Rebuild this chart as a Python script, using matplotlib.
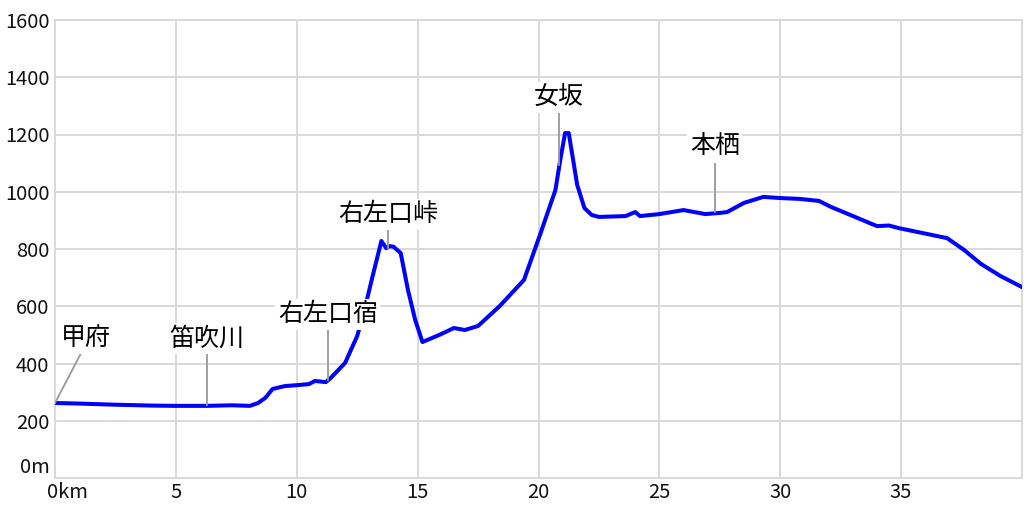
import matplotlib
matplotlib.use("Agg")
import matplotlib.pyplot as plt
from matplotlib.transforms import ScaledTranslation

plt.rcParams['font.family'] = ['Noto Sans CJK JP', 'DejaVu Sans']

# distance (km) and elevation (m)
dist_km = [0.0, 1.0, 2.5, 4.0, 5.0, 6.3, 7.3, 8.06, 8.4, 8.7, 9.0, 9.5, 10.1, 10.5, 10.75,
           11.2, 11.4, 12.0, 12.5, 12.8, 13.1, 13.5, 13.7, 13.85, 14.0, 14.3, 14.6, 14.9,
           15.2, 15.9, 16.5, 16.95, 17.5, 18.4, 19.4, 20.06, 20.7, 20.9, 21.1, 21.25,
           21.4, 21.6, 21.9, 22.2, 22.5, 23.6, 24.0, 24.2, 25.0, 26.0, 26.9, 27.5, 27.8,
           28.5, 29.3, 30.0, 30.8, 31.6, 32.1, 34.0, 34.5, 34.9, 36.9, 37.6, 38.3, 39.1, 40.0]
elev_m = [262, 260, 256, 253, 252, 252, 254, 252, 262, 280, 311, 321, 325, 328, 339,
          335, 349, 402, 496, 587, 692, 828, 803, 810, 808, 786, 657, 552,
          475, 500, 524, 517, 531, 601, 692, 849, 1006, 1111, 1205, 1205,
          1128, 1024, 943, 919, 912, 915, 929, 915, 922, 936, 922, 926, 929,
          961, 982, 978, 975, 968, 947, 880, 882, 873, 838, 797, 748, 706, 667]

# place labels
place_names = ['甲府', '笛吹川', '右左口宿', '右左口峠', '女坂', '本栖']
place_km = [0.0, 6.29, 11.29, 13.77, 20.85, 27.3]
place_m = [262, 255, 342, 803, 1093, 929]
line_top_km = [1.1, 6.29, 11.29, 13.77, 20.85, 27.3]
line_top_m = [440, 440, 527, 884, 1282, 1111]
text_km = [1.28, 6.29, 11.29, 13.77, 20.85, 27.3]
text_m = [488, 486, 572, 922, 1328, 1156]

x_ticks = [0, 5, 10, 15, 20, 25, 30, 35]
x_tick_labels = ['0km', '5', '10', '15', '20', '25', '30', '35']
y_ticks = [0, 200, 400, 600, 800, 1000, 1200, 1400, 1600]
y_tick_labels = ['0m', '200', '400', '600', '800', '1000', '1200', '1400', '1600']

fig = plt.figure(figsize=(10.24, 5.12), dpi=100)
ax = fig.add_axes([55/1024, 34/512, 967/1024, 458/512])
ax.set_xlim(0, 40)
ax.set_ylim(0, 1600)

ax.set_xticks(x_ticks)
ax.set_xticklabels(x_tick_labels, fontsize=14.5, color='#111111')
ax.set_yticks(y_ticks)
ax.set_yticklabels(y_tick_labels, fontsize=14.5, color='#111111')
ax.tick_params(axis='y', length=0, pad=4)
ax.tick_params(axis='x', length=0, pad=3)
ax.get_yticklabels()[0].set_va('bottom')
lab0 = ax.get_xticklabels()[0]
lab0.set_ha('left')
lab0.set_transform(lab0.get_transform() + ScaledTranslation(-8/100, 0, fig.dpi_scale_trans))

ax.grid(True, color='#d9d9d9', linewidth=1.4)
for s in ax.spines.values():
    s.set_color('#d9d9d9')
    s.set_linewidth(1.4)
ax.set_axisbelow(True)

ax.plot(dist_km, elev_m, color='#0000ff', linewidth=2.9, zorder=3, solid_capstyle='round')

for name, pk, pm, lk, lm, tk, tm in zip(place_names, place_km, place_m,
                                         line_top_km, line_top_m, text_km, text_m):
    ax.plot([pk, lk], [pm, lm], color='#999999', linewidth=1.3, zorder=4)
    ax.text(tk, tm, name, fontsize=18, ha='center', va='center',
            zorder=5, color='#000000',
            bbox=dict(boxstyle='square,pad=0.1', fc='white', ec='none'))

fig.savefig('out.png', dpi=100)
